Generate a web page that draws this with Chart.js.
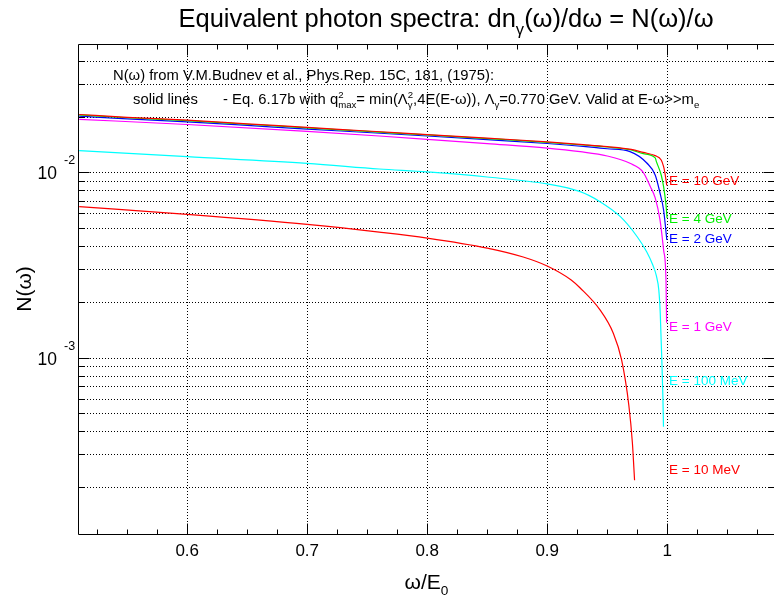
<!DOCTYPE html>
<html><head><meta charset="utf-8">
<script src="https://cdn.jsdelivr.net/npm/chart.js@4.4.0/dist/chart.umd.min.js"></script>
<style>html,body{margin:0;padding:0;background:#fff;overflow:hidden}canvas{display:block}</style>
</head><body>
<canvas id="c" width="774" height="601"></canvas>
<script>
// ---- data ----
const omega10GeV = [0.51,0.55,0.6,0.65,0.7,0.75,0.8,0.85,0.9,0.93,0.95,0.97,0.98,0.99,0.995,0.997,0.998,0.999,0.9996];
const N10GeV     = [0.0205,0.0198,0.0191,0.01825,0.01747,0.0167,0.01598,0.01528,0.0146,0.01411,0.01376,0.01328,0.0128,0.0123,0.01165,0.01072,0.0100,0.00909,0.0085];
const omega4GeV  = [0.51,0.55,0.6,0.65,0.7,0.75,0.8,0.85,0.9,0.93,0.95,0.97,0.98,0.99,0.991,0.995,0.997,0.999,0.9999];
const N4GeV      = [0.0204,0.0197,0.0190,0.01816,0.01738,0.01662,0.0159,0.0152,0.01452,0.01404,0.01369,0.0132,0.0126,0.01195,0.01141,0.00967,0.00836,0.00666,0.00567];
const omega2GeV  = [0.51,0.55,0.6,0.65,0.7,0.75,0.8,0.85,0.9,0.93,0.95,0.969,0.983,0.99,0.994,0.997,0.9997];
const N2GeV      = [0.0201,0.0194,0.0187,0.0179,0.0171,0.0164,0.0157,0.0150,0.0143,0.0138,0.0134,0.01292,0.01122,0.00967,0.00773,0.00626,0.00431];
const omega1GeV  = [0.51,0.6,0.7,0.76,0.8,0.85,0.9,0.9275,0.95,0.969,0.98,0.986,0.99,0.994,0.997,0.999,0.9995];
const N1GeV      = [0.01932,0.01811,0.01661,0.01570,0.01507,0.01428,0.01351,0.01292,0.01225,0.01118,0.0100,0.00836,0.00727,0.00553,0.00381,0.00262,0.00154];
const omega100MeV= [0.51,0.6,0.7,0.76,0.8,0.85,0.9,0.9275,0.944,0.961,0.975,0.983,0.988,0.991,0.993,0.9942,0.9956,0.9964,0.9969];
const N100MeV    = [0.01308,0.01214,0.01118,0.01042,0.01004,0.00943,0.00865,0.00786,0.00694,0.00576,0.00449,0.003715,0.00316,0.002757,0.002317,0.00174,0.000931,0.000615,0.000424];
const omega10MeV = [0.51,0.6,0.7,0.76,0.8,0.85,0.88,0.9,0.92,0.9275,0.944,0.955,0.962,0.968,0.971,0.9728];
const N10MeV     = [0.00652,0.00593,0.00524,0.00476,0.004418,0.0039,0.00349,0.00312,0.002623,0.002374,0.00181,0.001358,0.000971,0.000555,0.000346,0.000218];

const seriesNames  = ['E = 10 GeV','E = 4 GeV','E = 2 GeV','E = 1 GeV','E = 100 MeV','E = 10 MeV'];
const labelValues  = [0.00909,0.00567,0.00442,0.00148,0.000757,0.000250];
const xTickValues  = [0.6,0.7,0.8,0.9,1.0];
const xTickLabels  = ['0.6','0.7','0.8','0.9','1'];
const yDecadeValues= [0.001,0.01];
const yDecadeExps  = ['-3','-2'];
const xRange = [0.509, 1.089];
const yRange = [1.117e-4, 0.04924];

const colors = ['#ff0000','#00ee00','#0000ff','#ff00ff','#00ffff','#ff0000'];
const xs = [omega10GeV,omega4GeV,omega2GeV,omega1GeV,omega100MeV,omega10MeV];
const ys = [N10GeV,N4GeV,N2GeV,N1GeV,N100MeV,N10MeV];

const FF = "'Liberation Sans',Arial,sans-serif";
const font = s => s + 'px ' + FF;

function measureRich(ctx, segs, sz){
  let w = 0;
  for (const s of segs){
    if (typeof s === 'string'){ ctx.font = font(sz); w += ctx.measureText(s).width; }
    else { ctx.font = font(sz*0.65);
      const a = s.sup ? ctx.measureText(s.sup).width : 0;
      const b = s.sub ? ctx.measureText(s.sub).width : 0;
      w += Math.max(a,b); }
  }
  return w;
}
function drawRich(ctx, segs, x, base, sz, align){
  const w = measureRich(ctx, segs, sz);
  if (align === 'center') x -= w/2; else if (align === 'right') x -= w;
  ctx.textAlign = 'left'; ctx.textBaseline = 'alphabetic';
  for (const s of segs){
    if (typeof s === 'string'){ ctx.font = font(sz); ctx.fillText(s, x, base); x += ctx.measureText(s).width; }
    else { ctx.font = font(sz*0.65); let a = 0, b = 0;
      if (s.sup){ ctx.fillText(s.sup, x, base - sz*0.42); a = ctx.measureText(s.sup).width; }
      if (s.sub){ ctx.fillText(s.sub, x, base + sz*0.3); b = ctx.measureText(s.sub).width; }
      x += Math.max(a,b); }
  }
}

const framePlugin = {
  id: 'frame',
  beforeDatasetsDraw(chart){
    const {ctx, chartArea: a, scales: {x, y}} = chart;
    ctx.save();
    ctx.strokeStyle = '#000'; ctx.lineWidth = 1; ctx.setLineDash([1,2]);
    ctx.beginPath();
    xTickValues.forEach(v => { const p = Math.round(x.getPixelForValue(v)) + 0.5; ctx.moveTo(p, a.top); ctx.lineTo(p, a.bottom); });
    for (let d = -4; d <= -2; d++) for (let m = 1; m <= 9; m++){
      const v = m * Math.pow(10, d);
      if (v <= yRange[0] || v >= yRange[1]) continue;
      const p = Math.round(y.getPixelForValue(v)) + 0.5; ctx.moveTo(a.left, p); ctx.lineTo(a.right, p);
    }
    ctx.stroke();
    ctx.restore();
  },
  afterDatasetsDraw(chart){
    const {ctx, chartArea: a, scales: {x, y}} = chart;
    ctx.save();
    ctx.strokeStyle = '#000'; ctx.lineWidth = 1; ctx.setLineDash([]);
    ctx.beginPath();
    const L = Math.round(a.left) + 0.5, T = Math.round(a.top) + 0.5, B = Math.round(a.bottom) + 0.5, R = a.right + 0.5;
    ctx.moveTo(L, T); ctx.lineTo(R, T); ctx.moveTo(L, T); ctx.lineTo(L, B); ctx.lineTo(R, B);
    for (let i = 0; ; i++){
      const v = 0.5 + i*0.025; if (v > xRange[1]) break; if (v < xRange[0]) continue;
      const p = Math.round(x.getPixelForValue(v)) + 0.5;
      const major = Math.abs(v*10 - Math.round(v*10)) < 1e-6;
      const len = major ? 11 : 5;
      ctx.moveTo(p, B); ctx.lineTo(p, B - len);
      ctx.moveTo(p, T); ctx.lineTo(p, T + len);
    }
    for (let d = -4; d <= -2; d++) for (let m = 1; m <= 9; m++){
      const v = m * Math.pow(10, d);
      if (v <= yRange[0] || v >= yRange[1]) continue;
      const p = Math.round(y.getPixelForValue(v)) + 0.5;
      const len = m === 1 ? 11 : 6;
      ctx.moveTo(L, p); ctx.lineTo(L + len, p);
      ctx.moveTo(R, p); ctx.lineTo(R - len, p);
    }
    ctx.stroke();
    ctx.restore();
  },
  afterDraw(chart){
    const {ctx, chartArea: a, scales: {x, y}} = chart;
    ctx.save();
    ctx.fillStyle = '#000';
    drawRich(ctx, ['Equivalent photon spectra: dn', {sub:'γ'}, '(ω)/dω = N(ω)/ω'], 446, 27, 25.5, 'center');
    drawRich(ctx, ['N(ω) from V.M.Budnev et al., Phys.Rep. 15C, 181, (1975):'], 113, 80, 14.8, 'left');
    drawRich(ctx, ['solid lines'], 133, 104, 14.8, 'left');
    drawRich(ctx, ['- Eq. 6.17b with q', {sup:'2', sub:'max'}, '= min(Λ', {sup:'2', sub:'γ'}, ',4E(E-ω)), Λ', {sub:'γ'}, '=0.770 GeV. Valid at E-ω>>m', {sub:'e'}], 223, 104, 14.8, 'left');
    xTickValues.forEach((v, i) => {
      drawRich(ctx, [xTickLabels[i]], x.getPixelForValue(v), 556, 17, 'center');
    });
    yDecadeValues.forEach((v, i) => {
      const p = y.getPixelForValue(v);
      drawRich(ctx, ['10'], 57, p + 7, 17.5, 'right');
      ctx.font = font(12.5); ctx.textAlign = 'left'; ctx.textBaseline = 'alphabetic';
      ctx.fillText(yDecadeExps[i], 64, p - 8);
    });
    drawRich(ctx, ['ω/E', {sub:'0'}], (a.left + 775)/2, 589, 21, 'center');
    ctx.save();
    ctx.translate(31, (a.top + a.bottom)/2);
    ctx.rotate(-Math.PI/2);
    drawRich(ctx, ['N(ω)'], 0, 0, 21, 'center');
    ctx.restore();
    seriesNames.forEach((t, i) => {
      ctx.fillStyle = colors[i];
      drawRich(ctx, [t], 669, y.getPixelForValue(labelValues[i]) + 5, 13.5, 'left');
    });
    ctx.restore();
  }
};

const datasets = xs.map((xx, i) => ({
  label: seriesNames[i],
  data: xx.map((v, j) => ({x: v, y: ys[i][j]})),
  borderColor: colors[i],
  borderWidth: 1.2,
  pointRadius: 0,
  fill: false,
  cubicInterpolationMode: 'monotone'
}));

new Chart(document.getElementById('c'), {
  type: 'line',
  data: { datasets },
  plugins: [framePlugin],
  options: {
    responsive: false,
    animation: false,
    events: [],
    layout: { padding: { top: 44, left: 0, right: 0, bottom: 0 } },
    plugins: { legend: { display: false }, title: { display: false }, tooltip: { enabled: false } },
    scales: {
      x: {
        type: 'linear', min: xRange[0], max: xRange[1],
        grid: { display: false }, border: { display: false },
        ticks: { display: false },
        afterFit: s => { s.height = 67; }
      },
      y: {
        type: 'logarithmic', min: yRange[0], max: yRange[1],
        grid: { display: false }, border: { display: false },
        ticks: { display: false },
        afterFit: s => { s.width = 78; }
      }
    }
  }
});
</script>
</body></html>
